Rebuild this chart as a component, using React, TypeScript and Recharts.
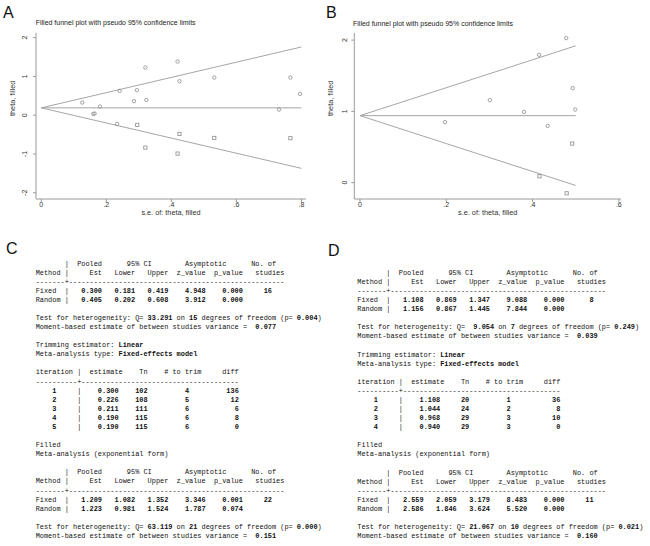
import React from 'react';
import { ScatterChart, Scatter, XAxis, YAxis, ReferenceLine, Label } from 'recharts';

// ---- panel A: funnel plot (se, theta) ----
const aObsSe = [0.126, 0.16, 0.164, 0.18, 0.233, 0.241, 0.285, 0.294, 0.32, 0.323, 0.419, 0.425, 0.532, 0.731, 0.766, 0.796];
const aObsTheta = [0.327, 0.034, 0.043, 0.224, -0.224, 0.628, 0.361, 0.645, 1.23, 0.396, 1.384, 0.877, 0.972, 0.146, 0.972, 0.55];
const aFillSe = [0.295, 0.32, 0.419, 0.425, 0.532, 0.766];
const aFillTheta = [-0.249, -0.834, -0.989, -0.481, -0.585, -0.593];
const aFunnelSe = [0, 0.8];
const aFunnelMid = [0.19, 0.19];
const aFunnelUpper = [0.19, 1.76];
const aFunnelLower = [0.19, -1.37];
const aXTicks = [0, 0.2, 0.4, 0.6, 0.8];
const aYTicks = [-2, -1, 0, 1, 2];

// ---- panel B ----
const bObsSe = [0.197, 0.301, 0.38, 0.415, 0.435, 0.478, 0.493, 0.499];
const bObsTheta = [0.848, 1.157, 0.993, 1.794, 0.796, 2.028, 1.326, 1.026];
const bFillSe = [0.416, 0.492, 0.479];
const bFillTheta = [0.089, 0.548, -0.15];
const bFunnelSe = [0, 0.5];
const bFunnelMid = [0.94, 0.94];
const bFunnelUpper = [0.94, 1.92];
const bFunnelLower = [0.94, -0.04];
const bXTicks = [0, 0.2, 0.4, 0.6];
const bYTicks = [0, 1, 2];

// ---- panel C: metatrim output ----
const cPooled = [
  ['Fixed', '0.300', '0.181', '0.419', '4.948', '0.000', '16'],
  ['Random', '0.405', '0.202', '0.608', '3.912', '0.000', ''],
];
const cHetero = ['33.291', '15', '0.004', '0.077'];
const cIter = [
  ['1', '0.300', '102', '4', '136'],
  ['2', '0.226', '108', '5', '12'],
  ['3', '0.211', '111', '6', '6'],
  ['4', '0.190', '115', '6', '8'],
  ['5', '0.190', '115', '6', '0'],
];
const cFilled = [
  ['Fixed', '1.209', '1.082', '1.352', '3.346', '0.001', '22'],
  ['Random', '1.223', '0.981', '1.524', '1.787', '0.074', ''],
];
const cFilledHetero = ['63.119', '21', '0.000', '0.151'];

// ---- panel D ----
const dPooled = [
  ['Fixed', '1.108', '0.869', '1.347', '9.088', '0.000', '8'],
  ['Random', '1.156', '0.867', '1.445', '7.844', '0.000', ''],
];
const dHetero = ['9.054', '7', '0.249', '0.039'];
const dIter = [
  ['1', '1.108', '20', '1', '36'],
  ['2', '1.044', '24', '2', '8'],
  ['3', '0.968', '29', '3', '10'],
  ['4', '0.940', '29', '3', '0'],
];
const dFilled = [
  ['Fixed', '2.559', '2.059', '3.179', '8.483', '0.000', '11'],
  ['Random', '2.586', '1.846', '3.624', '5.520', '0.000', ''],
];
const dFilledHetero = ['21.067', '10', '0.021', '0.160'];

const SANS = '"Liberation Sans", Arial, sans-serif';
const MONO = '"Liberation Mono", "Courier New", monospace';
const LINE = '#a6a6a6';
const AXIS = '#9a9a9a';
const MARK = '#8a8a8a';

const zip = (xs: number[], ys: number[]) => xs.map((x, i) => ({ x, y: ys[i] }));

const fmtSe = (v: number) => (v === 0 ? '0' : v.toFixed(1).replace(/^0/, ''));

function Hollow(props: any) {
  return <circle cx={props.cx} cy={props.cy} r={1.7} fill="none" stroke={MARK} strokeWidth={0.8} />;
}

function Square(props: any) {
  return <rect x={props.cx - 1.6} y={props.cy - 1.6} width={3.2} height={3.2} fill="none" stroke={MARK} strokeWidth={0.8} />;
}

function RotTick(props: any) {
  const { x, y, payload } = props;
  return (
    <text x={x} y={y} transform={`rotate(-90 ${x} ${y})`} textAnchor="middle" fontSize={7} fill="#333" fontFamily={SANS}>
      {payload.value}
    </text>
  );
}

interface FunnelProps {
  obs: { x: number; y: number }[];
  filled: { x: number; y: number }[];
  se: number[];
  mid: number[];
  upper: number[];
  lower: number[];
  xDomain: [number, number];
  yDomain: [number, number];
  xTicks: number[];
  yTicks: number[];
  yAxisWidth: number;
  rightMargin: number;
  yLabelOffset: number;
  yTickMargin: number;
}

function Funnel(p: FunnelProps) {
  const seg = (ys: number[]) => [
    { x: p.se[0], y: ys[0] },
    { x: p.se[1], y: ys[1] },
  ];
  return (
    <ScatterChart
      width={325}
      height={220}
      margin={{ top: 33, right: p.rightMargin, bottom: 0, left: 0 }}
      style={{ fontFamily: SANS }}
    >
      <XAxis
        type="number"
        dataKey="x"
        domain={p.xDomain}
        ticks={p.xTicks}
        tickFormatter={fmtSe}
        allowDataOverflow
        height={21}
        stroke={AXIS}
        tickSize={3}
        tickMargin={0}
        tick={{ fontSize: 7, fill: '#333' }}
      >
        <Label value="s.e. of: theta, filled" position="insideBottom" offset={5.5} fontSize={7.3} fill="#333" />
      </XAxis>
      <YAxis
        type="number"
        dataKey="y"
        domain={p.yDomain}
        ticks={p.yTicks}
        allowDataOverflow
        width={p.yAxisWidth}
        stroke={AXIS}
        tickSize={3}
        tickMargin={p.yTickMargin}
        tick={<RotTick />}
      >
        <Label value="theta, filled" angle={-90} position="insideLeft" offset={p.yLabelOffset} fontSize={7.3} fill="#333" />
      </YAxis>
      <ReferenceLine segment={seg(p.upper)} stroke={LINE} strokeWidth={1} />
      <ReferenceLine segment={seg(p.mid)} stroke={LINE} strokeWidth={1} />
      <ReferenceLine segment={seg(p.lower)} stroke={LINE} strokeWidth={1} />
      <Scatter data={p.obs} shape={<Hollow />} isAnimationActive={false} />
      <Scatter data={p.filled} shape={<Square />} isAnimationActive={false} />
    </ScatterChart>
  );
}

type Seg = [string, boolean];

const plain = (s: string): Seg => [s, false];
const bold = (s: string): Seg => [s, true];

function pooledLines(rows: string[][]): Seg[][] {
  return [
    [plain('       |  Pooled      95% CI        Asymptotic      No. of')],
    [plain('Method |     Est   Lower   Upper  z_value  p_value   studies')],
    [plain('-------+----------------------------------------------------')],
    ...rows.map((r) => [
      plain(r[0].padEnd(7) + '|'),
      bold(
        r[1].padStart(8) + r[2].padStart(8) + r[3].padStart(8) + r[4].padStart(9) + r[5].padStart(9) + r[6].padStart(7)
      ),
    ]),
  ];
}

function heteroLines(h: string[]): Seg[][] {
  return [
    [
      plain('Test for heterogeneity: Q= '),
      bold(h[0].padStart(6)),
      plain(' on '),
      bold(h[1]),
      plain(' degrees of freedom (p= '),
      bold(h[2]),
      plain(')'),
    ],
    [plain('Moment-based estimate of between studies variance = '), bold(h[3].padStart(6))],
  ];
}

function iterLines(rows: string[][]): Seg[][] {
  return [
    [plain('iteration |  estimate    Tn    # to trim     diff')],
    [plain('----------+--------------------------------------')],
    ...rows.map((r) => [
      bold('    ' + r[0]),
      plain('     |'),
      bold(r[1].padStart(9) + r[2].padStart(7) + r[3].padStart(10) + r[4].padStart(12)),
    ]),
  ];
}

function metatrimLines(pooled: string[][], het: string[], iter: string[][], filled: string[][], het2: string[]) {
  return [
    ...pooledLines(pooled),
    [],
    ...heteroLines(het),
    [],
    [plain('Trimming estimator: '), bold('Linear')],
    [plain('Meta-analysis type: '), bold('Fixed-effects model')],
    [],
    ...iterLines(iter),
    [],
    [plain('Filled')],
    [plain('Meta-analysis (exponential form)')],
    [],
    ...pooledLines(filled),
    [],
    ...heteroLines(het2),
  ];
}

function TextBlock({ lines, left, top }: { lines: Seg[][]; left: number; top: number }) {
  const lh = 9.08;
  return (
    <div style={{ position: 'absolute', left, top }}>
      {lines.map((ln, i) => (
        <div
          key={i}
          style={{
            position: 'absolute',
            left: 0,
            top: i * lh,
            height: lh,
            lineHeight: `${lh}px`,
            whiteSpace: 'pre',
            fontFamily: MONO,
            fontSize: 6.92,
            color: '#111',
          }}
        >
          {ln.map((s, j) => (
            <span key={j} style={{ fontWeight: s[1] ? 'bold' : 'normal' }}>
              {s[0]}
            </span>
          ))}
        </div>
      ))}
    </div>
  );
}

const panelLabel = (text: string, left: number, top: number) => (
  <div style={{ position: 'absolute', left, top, fontFamily: SANS, fontSize: 16, lineHeight: '16px', color: '#111' }}>{text}</div>
);

const title = (left: number, top: number) => (
  <div style={{ position: 'absolute', left, top, fontFamily: SANS, fontSize: 7, lineHeight: '8px', color: '#222', whiteSpace: 'pre' }}>
    Filled funnel plot with pseudo 95% confidence limits
  </div>
);

export default function App() {
  return (
    <div style={{ position: 'absolute', left: 0, top: 0, width: 650, height: 546, background: '#fff', overflow: 'hidden' }}>
      <div style={{ position: 'absolute', left: 0, top: 0 }}>
        <Funnel
          obs={zip(aObsSe, aObsTheta)}
          filled={zip(aFillSe, aFillTheta)}
          se={aFunnelSe}
          mid={aFunnelMid}
          upper={aFunnelUpper}
          lower={aFunnelLower}
          xDomain={[-0.0163, 0.814]}
          yDomain={[-2.16, 2.12]}
          xTicks={aXTicks}
          yTicks={aYTicks}
          yAxisWidth={36}
          rightMargin={19}
          yLabelOffset={12}
          yTickMargin={6}
        />
      </div>
      <div style={{ position: 'absolute', left: 325, top: 0 }}>
        <Funnel
          obs={zip(bObsSe, bObsTheta)}
          filled={zip(bFillSe, bFillTheta)}
          se={bFunnelSe}
          mid={bFunnelMid}
          upper={bFunnelUpper}
          lower={bFunnelLower}
          xDomain={[-0.0132, 0.605]}
          yDomain={[-0.23, 2.1]}
          xTicks={bXTicks}
          yTicks={bYTicks}
          yAxisWidth={29.3}
          rightMargin={29}
          yLabelOffset={5}
          yTickMargin={4}
        />
      </div>
      {panelLabel('A', 3, 5)}
      {panelLabel('B', 326, 5)}
      {panelLabel('C', 6, 241)}
      {panelLabel('D', 328, 243)}
      {title(35.7, 19)}
      {title(353, 20)}
      <TextBlock lines={metatrimLines(cPooled, cHetero, cIter, cFilled, cFilledHetero)} left={35.7} top={259.5} />
      <TextBlock lines={metatrimLines(dPooled, dHetero, dIter, dFilled, dFilledHetero)} left={357.3} top={268.8} />
    </div>
  );
}
